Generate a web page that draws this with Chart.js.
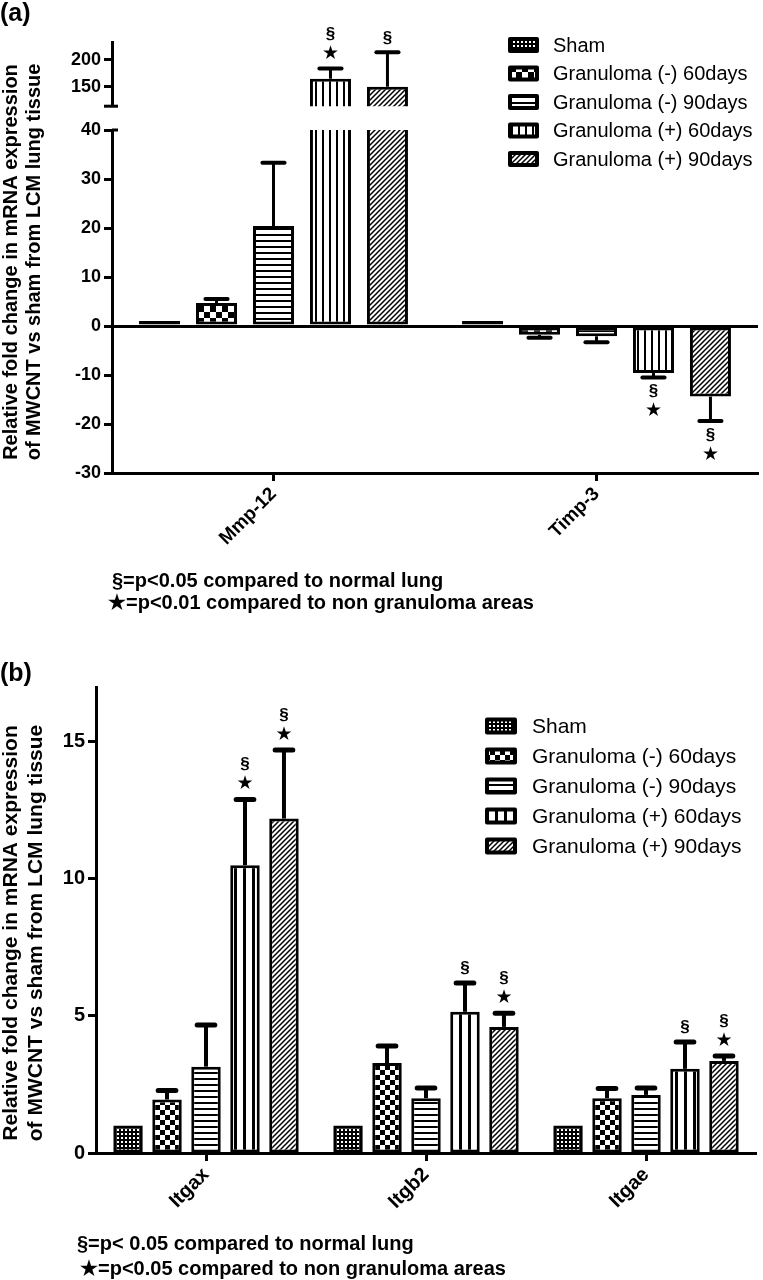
<!DOCTYPE html>
<html><head><meta charset="utf-8">
<script src="https://cdn.jsdelivr.net/npm/chart.js@4.4.1/dist/chart.umd.min.js"></script>
<style>
html,body{margin:0;padding:0;background:#fff;}
body{width:763px;height:1280px;position:relative;overflow:hidden;font-family:'Liberation Sans',Arial,Helvetica,sans-serif;}
canvas{position:absolute;left:0;}
.t{position:absolute;font-weight:bold;color:#000;white-space:nowrap;line-height:22px;font-size:20px;}
</style></head><body>
<canvas id="ca2" width="763" height="640" style="top:0"></canvas>
<canvas id="ca1" width="763" height="120" style="top:0"></canvas>
<canvas id="cb" width="763" height="640" style="top:640px"></canvas>
<div class="t" style="left:0;top:0;font-size:25px;line-height:25px">(a)</div>
<div class="t" style="left:112px;top:569px">§=p&lt;0.05 compared to normal lung</div>
<div class="t" style="left:108px;top:591px">★=p&lt;0.01 compared to non granuloma areas</div>
<div class="t" style="left:0;top:660px;font-size:25px;line-height:25px">(b)</div>
<div class="t" style="left:77px;top:1232px">§=p&lt; 0.05 compared to normal lung</div>
<div class="t" style="left:80px;top:1257px">★=p&lt;0.05 compared to non granuloma areas</div>
<script>
// ---------- data ----------
const seriesLabels = ['Sham', 'Granuloma (-) 60days', 'Granuloma (-) 90days', 'Granuloma (+) 60days', 'Granuloma (+) 90days'];

// Panel (a)
const genesA = ['Mmp-12', 'Timp-3'];
const shamA = [1, 1];
const gneg60A = [4.7, -1.8];
const gneg90A = [20.4, -2.1];
const gpos60A = [165, -9.6];
const gpos90A = [150, -14.4];
const shamErrA = [0, 0];
const gneg60ErrA = [0.8, 0.6];
const gneg90ErrA = [12.9, 1.2];
const gpos60ErrA = [19, 0.9];
const gpos90ErrA = [64, 5.0];
const shamSigA = ['', ''];
const gneg60SigA = ['', ''];
const gneg90SigA = ['', ''];
const gpos60SigA = ['§★', '§★'];
const gpos90SigA = ['§', '§★'];
const upperRangeA = [114, 233];
const upperTicksA = [150, 200];
const lowerRangeA = [-30, 40];
const lowerStepA = 10;

// Panel (b)
const genesB = ['Itgax', 'Itgb2', 'Itgae'];
const shamB = [1, 1, 1];
const gneg60B = [1.95, 3.28, 2.0];
const gneg90B = [3.15, 2.0, 2.12];
const gpos60B = [10.5, 5.15, 3.07];
const gpos90B = [12.2, 4.6, 3.36];
const shamErrB = [0, 0, 0];
const gneg60ErrB = [0.33, 0.62, 0.35];
const gneg90ErrB = [1.52, 0.37, 0.25];
const gpos60ErrB = [2.4, 1.05, 0.98];
const gpos90ErrB = [2.5, 0.5, 0.18];
const shamSigB = ['', '', ''];
const gneg60SigB = ['', '', ''];
const gneg90SigB = ['', '', ''];
const gpos60SigB = ['§★', '§', '§'];
const gpos90SigB = ['§★', '§★', '§★'];
const rangeB = [0, 17];
const ticksB = [0, 5, 10, 15];

const yTitleLines = ['Relative fold change in mRNA expression', 'of MWCNT vs sham from LCM lung tissue'];

// ---------- helpers ----------
const FONT = "'Liberation Sans', Arial, Helvetica, sans-serif";
Chart.defaults.font.family = FONT;
Chart.defaults.color = '#000';

function makePatterns(ctx, s) {
  function tile(w, h, draw) {
    const c = document.createElement('canvas'); c.width = w; c.height = h;
    const g = c.getContext('2d');
    g.fillStyle = '#fff'; g.fillRect(0, 0, w, h);
    g.fillStyle = '#000'; g.strokeStyle = '#000';
    draw(g);
    return ctx.createPattern(c, 'repeat');
  }
  const sham = tile(4, 4, g => { g.fillRect(0, 0, 4, 4); g.fillStyle = '#fff'; g.fillRect(1, 1, 2, 2); });
  const n60 = tile(2 * s.chk, 2 * s.chk, g => { g.fillRect(0, 0, s.chk, s.chk); g.fillRect(s.chk, s.chk, s.chk, s.chk); });
  const n90 = tile(6, s.hs, g => { g.fillRect(0, 0, 6, 2); });
  const p60 = tile(s.vs, 6, g => { g.fillRect(0, 0, s.vw, 6); });
  const p90 = tile(5, 5, g => {
    g.lineWidth = 1.5; g.beginPath();
    g.moveTo(-1, 6); g.lineTo(6, -1);
    g.moveTo(-1, 1); g.lineTo(1, -1);
    g.moveTo(4, 6); g.lineTo(6, 4);
    g.stroke();
  });
  return [sham, n60, n90, p60, p90];
}

function errorBarsPlugin(stem, capW, capFrac) {
  return {
    id: 'errorBars',
    afterDatasetsDraw(chart) {
      const ctx = chart.ctx, a = chart.chartArea;
      ctx.save();
      ctx.beginPath(); ctx.rect(a.left, a.top - 3, a.right - a.left, a.bottom - a.top + 6); ctx.clip();
      ctx.strokeStyle = '#000';
      chart.data.datasets.forEach((ds, i) => {
        const meta = chart.getDatasetMeta(i);
        const ys = chart.scales[meta.yAxisID];
        meta.data.forEach((el, j) => {
          const v = ds.data[j], e = ds.err[j];
          if (!e) return;
          const tip = v >= 0 ? v + e : v - e;
          const p0 = ys.getPixelForValue(v), p1 = ys.getPixelForValue(tip);
          const half = el.width * capFrac;
          ctx.lineWidth = stem; ctx.lineCap = 'butt';
          ctx.beginPath(); ctx.moveTo(el.x, p0); ctx.lineTo(el.x, p1); ctx.stroke();
          ctx.lineWidth = capW; ctx.lineCap = 'round';
          ctx.beginPath(); ctx.moveTo(el.x - half, p1); ctx.lineTo(el.x + half, p1); ctx.stroke();
        });
      });
      ctx.restore();
    }
  };
}

function sigPlugin(first, step) {
  return {
    id: 'sigMarks',
    afterDatasetsDraw(chart) {
      const ctx = chart.ctx, a = chart.chartArea;
      ctx.save();
      ctx.fillStyle = '#000'; ctx.textAlign = 'center'; ctx.textBaseline = 'middle';
      chart.data.datasets.forEach((ds, i) => {
        const meta = chart.getDatasetMeta(i);
        const ys = chart.scales[meta.yAxisID];
        meta.data.forEach((el, j) => {
          const s = ds.sig[j];
          if (!s) return;
          const v = ds.data[j];
          const tip = v >= 0 ? v + ds.err[j] : v - ds.err[j];
          const p = ys.getPixelForValue(tip);
          if (p < a.top - 3 || p > a.bottom + 3) return;
          const chars = Array.from(s);
          const dir = v >= 0 ? -1 : 1;
          const order = v >= 0 ? chars.slice().reverse() : chars;
          order.forEach((ch, k) => {
            ctx.font = ch === '★' ? "19px 'DejaVu Sans'" : 'bold 17px ' + FONT;
            ctx.fillText(ch, el.x, p + dir * (first + k * step));
          });
        });
      });
      ctx.restore();
    }
  };
}

function legendPlugin(x, y, gap, w, h, tx, fontSize) {
  return {
    id: 'patLegend',
    afterDraw(chart) {
      const ctx = chart.ctx;
      ctx.save();
      chart.data.datasets.forEach((ds, i) => {
        const cy = y + i * gap;
        ctx.fillStyle = '#000';
        ctx.beginPath();
        if (ctx.roundRect) ctx.roundRect(x, cy - h / 2, w, h, 2); else ctx.rect(x, cy - h / 2, w, h);
        ctx.fill();
        ctx.fillStyle = ds.backgroundColor;
        ctx.fillRect(x + 4, cy - h / 2 + 4, w - 8, h - 8);
        ctx.fillStyle = '#000';
        ctx.font = fontSize + 'px ' + FONT;
        ctx.textAlign = 'left'; ctx.textBaseline = 'middle';
        ctx.fillText(ds.label, tx, cy + 1);
      });
      ctx.restore();
    }
  };
}

function yTitlePlugin(lines, xs, cy, fontSize) {
  return {
    id: 'yTitle',
    afterDraw(chart) {
      const ctx = chart.ctx;
      ctx.save();
      ctx.fillStyle = '#000';
      ctx.font = 'bold ' + fontSize + 'px ' + FONT;
      ctx.textAlign = 'center'; ctx.textBaseline = 'middle';
      lines.forEach((t, k) => {
        ctx.save(); ctx.translate(xs[k], cy); ctx.rotate(-Math.PI / 2); ctx.fillText(t, 0, 0); ctx.restore();
      });
      ctx.restore();
    }
  };
}

function breakCapPlugin(where) {
  return {
    id: 'breakCap',
    afterDraw(chart) {
      const ctx = chart.ctx, a = chart.chartArea;
      const y = where === 'bottom' ? a.bottom : a.top;
      ctx.save(); ctx.strokeStyle = '#000'; ctx.lineWidth = 3;
      ctx.beginPath(); ctx.moveTo(a.left - (where === 'bottom' ? 8 : 0), y); ctx.lineTo(a.left + 6, y); ctx.stroke();
      ctx.restore();
    }
  };
}

function buildDatasets(pats, vals, errs, sigs, bw, skipped, catPct, barPct) {
  return seriesLabels.map((lab, i) => ({
    label: lab, data: vals[i], err: errs[i], sig: sigs[i],
    backgroundColor: pats[i], borderColor: '#000', borderWidth: bw,
    borderSkipped: skipped, categoryPercentage: catPct, barPercentage: barPct
  }));
}

const tickFont = { family: FONT, size: 18, weight: 'bold' };

// ---------- Panel (a): lower segment ----------
const ctxA2 = document.getElementById('ca2').getContext('2d');
const patsA2 = makePatterns(ctxA2, { chk: 6, hs: 6, vs: 7, vw: 2 });
const valsA = [shamA, gneg60A, gneg90A, gpos60A, gpos90A];
const errsA = [shamErrA, gneg60ErrA, gneg90ErrA, gpos60ErrA, gpos90ErrA];
const sigsA = [shamSigA, gneg60SigA, gneg90SigA, gpos60SigA, gpos90SigA];

new Chart(ctxA2, {
  type: 'bar',
  data: { labels: genesA, datasets: buildDatasets(patsA2, valsA, errsA, sigsA, 3, false, 0.882, 0.72) },
  options: {
    responsive: false, animation: false, devicePixelRatio: 1,
    layout: { padding: { top: 130, right: 5, bottom: 0, left: 0 } },
    plugins: { legend: { display: false }, tooltip: { enabled: false }, title: { display: false } },
    scales: {
      x: {
        offset: true,
        grid: { display: true, drawOnChartArea: false, offset: false, tickLength: 8, tickWidth: 3, tickColor: '#000' },
        border: { display: true, width: 3, color: '#000' },
        ticks: { autoSkip: false, minRotation: 45, maxRotation: 45, padding: 2, color: '#000', font: { family: FONT, size: 19, weight: 'bold' } },
        afterFit: s => { s.height = 167; }
      },
      y: {
        min: lowerRangeA[0], max: lowerRangeA[1],
        ticks: { stepSize: lowerStepA, padding: 3, color: '#000', font: tickFont },
        grid: {
          drawOnChartArea: true, tickLength: 8, tickWidth: 3, tickColor: '#000',
          color: c => (c.tick && c.tick.value === 0) ? '#000' : 'rgba(0,0,0,0)',
          lineWidth: 3
        },
        border: { display: true, width: 3, color: '#000' },
        afterFit: s => { s.width = 112; }
      }
    }
  },
  plugins: [errorBarsPlugin(3, 4, 0.27), sigPlugin(14, 20), legendPlugin(508, 45, 28.5, 31, 16, 553, 20),
            yTitlePlugin(yTitleLines, [11, 34], 262, 20), breakCapPlugin('top')]
});

// ---------- Panel (a): upper segment ----------
const ctxA1 = document.getElementById('ca1').getContext('2d');
const patsA1 = makePatterns(ctxA1, { chk: 6, hs: 6, vs: 7, vw: 2 });
new Chart(ctxA1, {
  type: 'bar',
  data: { labels: genesA, datasets: buildDatasets(patsA1, valsA, errsA, sigsA, 3, 'start', 0.882, 0.72) },
  options: {
    responsive: false, animation: false, devicePixelRatio: 1,
    layout: { padding: { top: 42, right: 5, bottom: 8, left: 0 } },
    plugins: { legend: { display: false }, tooltip: { enabled: false } },
    scales: {
      x: { display: false, offset: true, afterFit: s => { s.height = 0; } },
      y: {
        min: upperRangeA[0], max: upperRangeA[1],
        afterBuildTicks: s => { s.ticks = upperTicksA.map(v => ({ value: v })); },
        ticks: { padding: 3, color: '#000', font: tickFont },
        grid: { drawOnChartArea: false, tickLength: 8, tickWidth: 3, tickColor: '#000' },
        border: { display: true, width: 3, color: '#000' },
        afterFit: s => { s.width = 112; }
      }
    }
  },
  plugins: [errorBarsPlugin(3, 4, 0.27), sigPlugin(14, 20), breakCapPlugin('bottom')]
});

// ---------- Panel (b) ----------
const ctxB = document.getElementById('cb').getContext('2d');
const patsB = makePatterns(ctxB, { chk: 5, hs: 6, vs: 9, vw: 3 });
const valsB = [shamB, gneg60B, gneg90B, gpos60B, gpos90B];
const errsB = [shamErrB, gneg60ErrB, gneg90ErrB, gpos60ErrB, gpos90ErrB];
const sigsB = [shamSigB, gneg60SigB, gneg90SigB, gpos60SigB, gpos90SigB];

new Chart(ctxB, {
  type: 'bar',
  data: { labels: genesB, datasets: buildDatasets(patsB, valsB, errsB, sigsB, 3, false, 0.886, 0.756) },
  options: {
    responsive: false, animation: false, devicePixelRatio: 1,
    layout: { padding: { top: 47, right: 7, bottom: 0, left: 0 } },
    plugins: { legend: { display: false }, tooltip: { enabled: false } },
    scales: {
      x: {
        offset: true,
        grid: { display: true, drawOnChartArea: false, offset: false, tickLength: 8, tickWidth: 3, tickColor: '#000' },
        border: { display: true, width: 3, color: '#000' },
        ticks: { autoSkip: false, minRotation: 45, maxRotation: 45, padding: 2, color: '#000', font: { family: FONT, size: 20, weight: 'bold' } },
        afterFit: s => { s.height = 127; }
      },
      y: {
        min: rangeB[0], max: rangeB[1],
        afterBuildTicks: s => { s.ticks = ticksB.map(v => ({ value: v })); },
        ticks: { padding: 3, color: '#000', font: { family: FONT, size: 20, weight: 'bold' } },
        grid: { drawOnChartArea: false, tickLength: 8, tickWidth: 3, tickColor: '#000' },
        border: { display: true, width: 3, color: '#000' },
        afterFit: s => { s.width = 96; }
      }
    }
  },
  plugins: [errorBarsPlugin(4, 5, 0.3), sigPlugin(15, 20), legendPlugin(485, 86, 30, 32, 17, 532, 21),
            yTitlePlugin(yTitleLines, [11, 36], 293, 21)]
});
</script>
</body></html>
